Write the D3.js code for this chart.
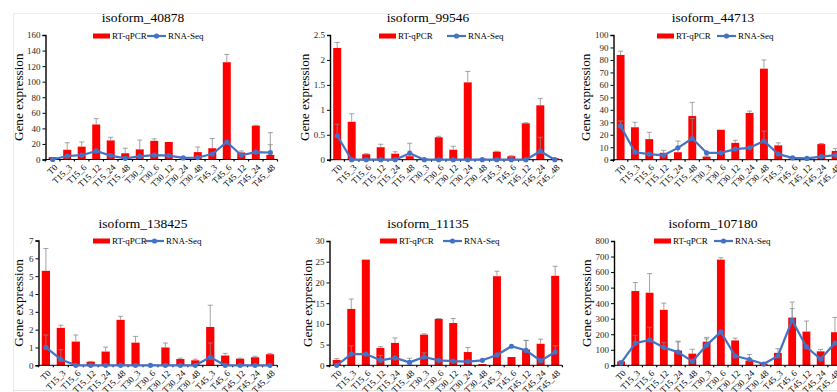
<!DOCTYPE html>
<html>
<head>
<meta charset="utf-8">
<script src="https://cdn.jsdelivr.net/npm/d3@7"></script>
<style>
  body { margin: 0; background: #fff; }
  svg, svg text { font-family: "Liberation Serif", "Times New Roman", "DejaVu Serif", serif; }
</style>
</head>
<body>
<svg id="chart" width="837" height="392"></svg>
<script>
const categories = ["T0", "T15_3", "T15_6", "T15_12", "T15_24", "T15_48", "T30_3", "T30_6",
  "T30_12", "T30_24", "T30_48", "T45_3", "T45_6", "T45_12", "T45_24", "T45_48"];

// isoform_40878
const qpcr40878 = [3, 12.5, 16.5, 45, 24.5, 8, 13, 24, 22.5, 1, 9.5, 14.5, 125, 9, 43.5, 6];
const qerr40878 = [0, 9, 6, 7.5, 4, 6.5, 12, 2.5, 0, 0, 6.5, 12.5, 10, 2, 0.5, 28.5];
const rna40878 = [0, 4.5, 5.5, 11, 5, 1.5, 4, 5.5, 5, 2, 2.5, 7, 22.5, 5.5, 9.5, 9];
const rerr40878 = [0, 0, 0, 0, 0, 0, 0, 0, 0, 0, 0, 0, 0, 0, 0, 10];

// isoform_99546
const qpcr99546 = [2.24, 0.76, 0.11, 0.25, 0.12, 0.07, 0.02, 0.45, 0.2, 1.55, 0.02, 0.16, 0.07, 0.73, 1.09, 0.03];
const qerr99546 = [0.11, 0.16, 0.01, 0.06, 0.04, 0, 0, 0.02, 0.07, 0.22, 0, 0.01, 0.01, 0.01, 0.14, 0];
const rna99546 = [0.48, 0, 0, 0, 0, 0.13, 0, 0, 0, 0, 0, 0, 0, 0, 0.17, 0];
const rerr99546 = [0.23, 0, 0, 0, 0, 0.2, 0, 0, 0, 0, 0, 0, 0, 0, 0.28, 0];

// isoform_44713
const qpcr44713 = [84, 26, 16.5, 5.5, 6, 35, 2.5, 24, 13.5, 37.5, 73, 11.5, 1, 0.5, 12.5, 7];
const qerr44713 = [3, 4, 5.5, 2, 9, 11, 0.5, 0, 2, 1.5, 7, 2, 0, 0, 0.5, 2];
const rna44713 = [27, 6, 4.5, 3.5, 9.5, 17, 5.5, 5.5, 8.5, 9.5, 15, 4.5, 1.5, 1, 2.5, 3.7];
const rerr44713 = [4, 0, 0, 0, 0, 16, 0, 0, 0, 0, 8, 0, 0, 0, 0, 0];

// isoform_138425
const qpcr138425 = [5.3, 2.1, 1.33, 0.2, 0.77, 2.55, 1.27, 0.02, 1.0, 0.35, 0.28, 2.15, 0.55, 0.37, 0.45, 0.62];
const qerr138425 = [1.25, 0.15, 0.37, 0.02, 0.25, 0.2, 0.35, 0, 0.25, 0.05, 0.06, 1.22, 0.12, 0.03, 0.06, 0.05];
const rna138425 = [1.0, 0.33, 0, 0, 0, 0, 0, 0, 0, 0, 0, 0.45, 0, 0, 0, 0];
const rerr138425 = [0.7, 0.55, 0, 0, 0, 0, 0, 0, 0, 0, 0, 0.8, 0, 0, 0, 0];

// isoform_11135
const qpcr11135 = [1.3, 13.6, 25.5, 4.2, 5.4, 0.1, 7.4, 11.2, 10.2, 3.2, 0.3, 21.5, 2.0, 3.8, 5.2, 21.6];
const qerr11135 = [0.3, 2.4, 0, 0.3, 1.2, 0, 0.2, 0.1, 1.1, 1.1, 0, 1.2, 0, 2.2, 1.1, 2.3];
const rna11135 = [0, 2.7, 2.7, 1.2, 1.8, 0.7, 2.0, 1.2, 1.0, 0.9, 1.2, 2.5, 4.6, 3.6, 1.1, 3.2];
const rerr11135 = [0, 2, 0, 1.2, 0, 1, 1, 0, 0, 0, 0, 0, 0, 2.4, 0, 1.5];

// isoform_107180
const qpcr107180 = [25, 478, 467, 357, 95, 75, 152, 680, 160, 30, 10, 80, 307, 217, 90, 213];
const qerr107180 = [5, 55, 123, 43, 60, 28, 28, 12, 15, 40, 0, 27, 100, 68, 12, 95];
const rna107180 = [15, 143, 163, 115, 85, 25, 130, 215, 60, 37, 8, 60, 290, 118, 40, 143];
const rerr107180 = [0, 50, 82, 30, 65, 0, 40, 0, 0, 0, 0, 0, 75, 0, 0, 0];

const panels = [
  { title: "isoform_40878", q: qpcr40878, qe: qerr40878, r: rna40878, re: rerr40878, max: 160, step: 20,
    x0: 45.5, x1: 277.5, y0: 35, y1: 159.5, labelX: 18, titleX: 143, titleY: 22, legY: 36, sw: 93, ln: 147 },
  { title: "isoform_99546", q: qpcr99546, qe: qerr99546, r: rna99546, re: rerr99546, max: 2.5, step: 0.5,
    x0: 330, x1: 562, y0: 35, y1: 159.7, labelX: 304, titleX: 428, titleY: 22, legY: 36, sw: 379, ln: 447 },
  { title: "isoform_44713", q: qpcr44713, qe: qerr44713, r: rna44713, re: rerr44713, max: 100, step: 10,
    x0: 613.5, x1: 842.7, y0: 35, y1: 159.7, labelX: 585, titleX: 713, titleY: 22, legY: 36, sw: 657, ln: 717 },
  { title: "isoform_138425", q: qpcr138425, qe: qerr138425, r: rna138425, re: rerr138425, max: 7, step: 1,
    x0: 38.5, x1: 277.4, y0: 240.5, y1: 365.3, labelX: 18, titleX: 143, titleY: 228, legY: 241, sw: 93, ln: 145 },
  { title: "isoform_11135", q: qpcr11135, qe: qerr11135, r: rna11135, re: rerr11135, max: 30, step: 5,
    x0: 329.5, x1: 562.4, y0: 241, y1: 365.3, labelX: 307, titleX: 428, titleY: 228, legY: 241, sw: 380, ln: 443 },
  { title: "isoform_107180", q: qpcr107180, qe: qerr107180, r: rna107180, re: rerr107180, max: 800, step: 100,
    x0: 614, x1: 842, y0: 241, y1: 365.3, labelX: 586, titleX: 713, titleY: 228, legY: 241, sw: 654, ln: 714 }
];

const FONT = "'Liberation Serif', 'Times New Roman', serif";
const svg = d3.select("#chart").attr("font-family", FONT);
const RED = "#ff0000", BLUE = "#4472c4", ERR = "#8c8c8c";

// faint chart-area frames
svg.append("line").attr("x1", 13).attr("x2", 837).attr("y1", 13.5).attr("y2", 13.5).attr("stroke", "#ececec");
svg.append("line").attr("x1", 13.5).attr("x2", 13.5).attr("y1", 13).attr("y2", 392).attr("stroke", "#ececec");
svg.append("line").attr("x1", 13).attr("x2", 837).attr("y1", 390.5).attr("y2", 390.5).attr("stroke", "#e4e4e4");

panels.forEach(p => {
  const g = svg.append("g").attr("font-family", FONT);
  const x = d3.scaleBand().domain(categories).range([p.x0, p.x1]).paddingInner(0.45).paddingOuter(0.22);
  const y = d3.scaleLinear().domain([0, p.max]).range([p.y1, p.y0]);
  const cx = c => x(c) + x.bandwidth() / 2;

  // title
  g.append("text").attr("x", p.titleX).attr("y", p.titleY).attr("text-anchor", "middle")
    .attr("font-size", 13.5).attr("fill", "#000").text(p.title);

  // y axis label
  g.append("text").attr("transform", `translate(${p.labelX},${(p.y0 + p.y1) / 2}) rotate(-90)`)
    .attr("text-anchor", "middle").attr("dy", "0.35em").attr("font-size", 13.2).text("Gene expression");

  // bars
  g.selectAll(".bar").data(categories).join("rect")
    .attr("x", c => x(c)).attr("width", x.bandwidth())
    .attr("y", (c, i) => y(p.q[i])).attr("height", (c, i) => y(0) - y(p.q[i]))
    .attr("fill", RED);

  // error bars (upper only)
  const drawErr = (vals, errs) => {
    categories.forEach((c, i) => {
      if (!errs[i]) return;
      const xx = cx(c), top = y(vals[i] + errs[i]);
      g.append("line").attr("x1", xx).attr("x2", xx).attr("y1", y(vals[i])).attr("y2", top)
        .attr("stroke", ERR).attr("stroke-width", 0.8);
      g.append("line").attr("x1", xx - 2.5).attr("x2", xx + 2.5).attr("y1", top).attr("y2", top)
        .attr("stroke", ERR).attr("stroke-width", 0.8);
    });
  };
  drawErr(p.q, p.qe);

  // x axis line with small ticks at band boundaries
  g.append("line").attr("x1", p.x0).attr("x2", p.x1).attr("y1", y(0)).attr("y2", y(0))
    .attr("stroke", "#000").attr("stroke-width", 1);
  const bounds = categories.map(c => x(c) - x.step() * x.paddingInner() / 2).concat([p.x1]);
  g.selectAll(".xt").data(bounds).join("line")
    .attr("x1", d => d).attr("x2", d => d).attr("y1", y(0)).attr("y2", y(0) + 2)
    .attr("stroke", "#000").attr("stroke-width", 1.2);

  // x tick labels
  g.selectAll(".xl").data(categories).join("text")
    .attr("transform", c => `translate(${cx(c) + 1},${y(0) + 4}) rotate(-45)`)
    .attr("text-anchor", "end").attr("dy", "0.7em").attr("font-size", 9).attr("fill", "#000")
    .attr("font-family", FONT)
    .text(c => c);

  // y axis
  const yAxis = d3.axisLeft(y).tickValues(d3.range(0, p.max + p.step / 2, p.step))
    .tickSize(3).tickPadding(2).tickFormat(d3.format("~g"));
  const ya = g.append("g").attr("transform", `translate(${p.x0},0)`).call(yAxis).attr("font-family", FONT);
  ya.select(".domain").attr("stroke", "#000").attr("stroke-width", 1.4);
  ya.selectAll(".tick line").attr("stroke", "#000");
  ya.selectAll(".tick text").attr("font-size", 9).attr("font-family", FONT).attr("fill", "#262626");

  // RNA-Seq line
  drawErr(p.r, p.re);
  const line = d3.line().x(c => cx(c)).y((c, i) => y(p.r[i]));
  g.append("path").datum(categories).attr("d", line).attr("fill", "none")
    .attr("stroke", BLUE).attr("stroke-width", 2.2).attr("stroke-linejoin", "round");
  g.selectAll(".pt").data(categories).join("circle")
    .attr("cx", c => cx(c)).attr("cy", (c, i) => y(p.r[i])).attr("r", 2.6).attr("fill", BLUE);

  // legend
  g.append("rect").attr("x", p.sw).attr("y", p.legY - 2.5).attr("width", 17).attr("height", 5).attr("fill", RED);
  g.append("text").attr("x", p.sw + 19).attr("y", p.legY).attr("dy", "0.35em").attr("font-size", 9)
    .attr("font-family", FONT).text("RT-qPCR");
  g.append("line").attr("x1", p.ln).attr("x2", p.ln + 19).attr("y1", p.legY).attr("y2", p.legY)
    .attr("stroke", BLUE).attr("stroke-width", 2.2);
  g.append("circle").attr("cx", p.ln + 9.5).attr("cy", p.legY).attr("r", 2.6).attr("fill", BLUE);
  g.append("text").attr("x", p.ln + 21).attr("y", p.legY).attr("dy", "0.35em").attr("font-size", 9)
    .attr("font-family", FONT).text("RNA-Seq");
});
</script>
</body>
</html>
